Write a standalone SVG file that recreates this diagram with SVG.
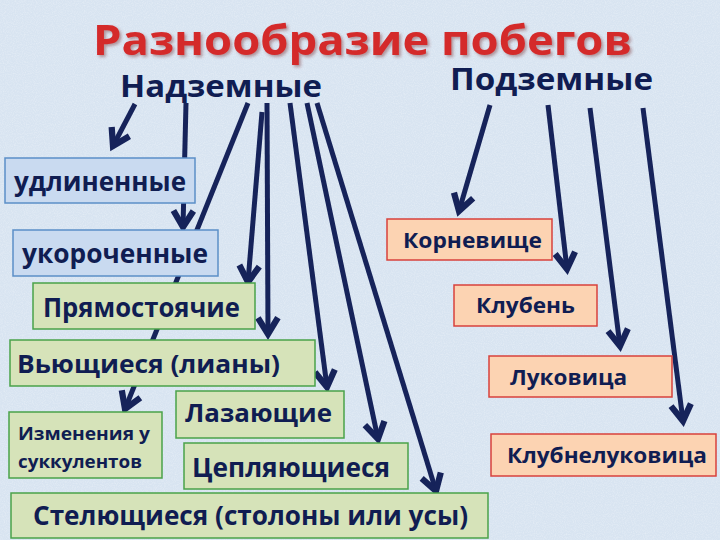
<svg xmlns="http://www.w3.org/2000/svg" width="720" height="540" viewBox="0 0 720 540">
  <defs>
    <filter id="tex" x="0" y="0" width="100%" height="100%">
      <feTurbulence type="fractalNoise" baseFrequency="0.9" numOctaves="2" seed="3" result="n"/>
      <feColorMatrix in="n" type="matrix" values="0 0 0 0 1  0 0 0 0 1  0 0 0 0 1  0 0 0 0.9 -0.35" result="w"/>
      <feComposite in="w" in2="SourceGraphic" operator="in"/>
    </filter>
    <filter id="glow" x="-5%" y="-30%" width="110%" height="160%">
      <feGaussianBlur in="SourceAlpha" stdDeviation="1.5" result="b"/>
      <feOffset in="b" dx="1.5" dy="2" result="o"/>
      <feFlood flood-color="#7a3030" flood-opacity="0.45"/>
      <feComposite in2="o" operator="in" result="s"/>
      <feMerge><feMergeNode in="s"/><feMergeNode in="SourceGraphic"/></feMerge>
    </filter>
    <marker id="ah" markerUnits="userSpaceOnUse" markerWidth="30" markerHeight="30" refX="0" refY="0" viewBox="-16 -12 20 24" orient="auto" overflow="visible">
      <path d="M -13 -8 L 0 0 L -13 8" fill="none" stroke="#16235a" stroke-width="5" stroke-linejoin="miter" stroke-linecap="butt"/>
    </marker>
    <style>
      .con line { stroke: #16235a; stroke-width: 5; marker-end: url(#ah); }
      .blue { fill: #c9daf0; stroke: #5b8fc7; stroke-width: 1.5; }
      .green { fill: #d6e3b9; stroke: #4aa24a; stroke-width: 1.5; }
      .peach { fill: #fcd3b2; stroke: #d8413c; stroke-width: 1.5; }
      .t { font-family: "Open Sans", "Noto Sans", "Liberation Sans", sans-serif; font-weight: bold; fill: #101d52; }
    </style>
  </defs>

  <rect width="720" height="540" fill="#d8e4f1"/>
  <rect width="720" height="540" fill="#d8e4f1" filter="url(#tex)" opacity="0.6"/>

  <g id="title">
    <text x="93" y="55" class="t" font-size="41" style="fill:#d42a2c" textLength="539" lengthAdjust="spacingAndGlyphs" filter="url(#glow)">Разнообразие побегов</text>
  </g>
  <g id="nadzemnye">
    <text x="120" y="97" class="t" font-size="31" textLength="202" lengthAdjust="spacingAndGlyphs">Надземные</text>
  </g>
  <g id="podzemnye">
    <text x="450" y="90" class="t" font-size="30" textLength="203" lengthAdjust="spacingAndGlyphs">Подземные</text>
  </g>

  <g id="connectors" class="con">
    <line x1="135" y1="104" x2="113" y2="146"/>
    <line x1="186" y1="103" x2="183" y2="227"/>
    <line x1="248" y1="103" x2="125" y2="409"/>
    <line x1="262" y1="112" x2="248" y2="282"/>
    <line x1="267" y1="103" x2="268" y2="334"/>
    <line x1="290" y1="103" x2="327" y2="387"/>
    <line x1="307" y1="103" x2="378" y2="439"/>
    <line x1="317" y1="103" x2="436" y2="491"/>
    <line x1="490" y1="105" x2="459" y2="211"/>
    <line x1="548" y1="105" x2="567" y2="269"/>
    <line x1="590" y1="108" x2="620" y2="346"/>
    <line x1="643" y1="108" x2="683" y2="421"/>
  </g>

  <g id="udlinennye">
    <rect class="blue" x="5" y="158" width="190" height="45"/>
    <text class="t" x="14" y="191" font-size="26" textLength="172" lengthAdjust="spacingAndGlyphs">удлиненные</text>
  </g>
  <g id="ukorochennye">
    <rect class="blue" x="13" y="230" width="205" height="46"/>
    <text class="t" x="22" y="263" font-size="26" textLength="186" lengthAdjust="spacingAndGlyphs">укороченные</text>
  </g>
  <g id="pryamostoyachie">
    <rect class="green" x="33" y="283" width="222" height="46"/>
    <text class="t" x="43" y="317" font-size="26" textLength="197" lengthAdjust="spacingAndGlyphs">Прямостоячие</text>
  </g>
  <g id="vyushchiesya">
    <rect class="green" x="10" y="340" width="305" height="46"/>
    <text class="t" x="17" y="373" font-size="25" textLength="263" lengthAdjust="spacingAndGlyphs">Вьющиеся (лианы)</text>
  </g>
  <g id="sukkulenty">
    <rect class="green" x="9" y="412" width="153" height="66"/>
    <text class="t" x="18" y="440" font-size="18" textLength="132" lengthAdjust="spacingAndGlyphs">Изменения у</text>
    <text class="t" x="18" y="468" font-size="18" textLength="124" lengthAdjust="spacingAndGlyphs">суккулентов</text>
  </g>
  <g id="lazayushchie">
    <rect class="green" x="176" y="391" width="168" height="47"/>
    <text class="t" x="185" y="422" font-size="25" textLength="147" lengthAdjust="spacingAndGlyphs">Лазающие</text>
  </g>
  <g id="ceplyayushchiesya">
    <rect class="green" x="184" y="443" width="224" height="46"/>
    <text class="t" x="192" y="477" font-size="27" textLength="198" lengthAdjust="spacingAndGlyphs">Цепляющиеся</text>
  </g>
  <g id="stelyushchiesya">
    <rect class="green" x="11" y="493" width="477" height="45"/>
    <text class="t" x="33" y="525" font-size="27" textLength="435" lengthAdjust="spacingAndGlyphs">Стелющиеся (столоны или усы)</text>
  </g>

  <g id="kornevishche">
    <rect class="peach" x="387" y="219" width="165" height="41"/>
    <text class="t" x="403" y="248" font-size="22" textLength="139" lengthAdjust="spacingAndGlyphs">Корневище</text>
  </g>
  <g id="kluben">
    <rect class="peach" x="454" y="285" width="143" height="41"/>
    <text class="t" x="476" y="313" font-size="22" textLength="99" lengthAdjust="spacingAndGlyphs">Клубень</text>
  </g>
  <g id="lukovica">
    <rect class="peach" x="489" y="356" width="183" height="41"/>
    <text class="t" x="510" y="385" font-size="22" textLength="117" lengthAdjust="spacingAndGlyphs">Луковица</text>
  </g>
  <g id="klubnelukovica">
    <rect class="peach" x="491" y="434" width="225" height="42"/>
    <text class="t" x="507" y="463" font-size="22" textLength="200" lengthAdjust="spacingAndGlyphs">Клубнелуковица</text>
  </g>
</svg>
